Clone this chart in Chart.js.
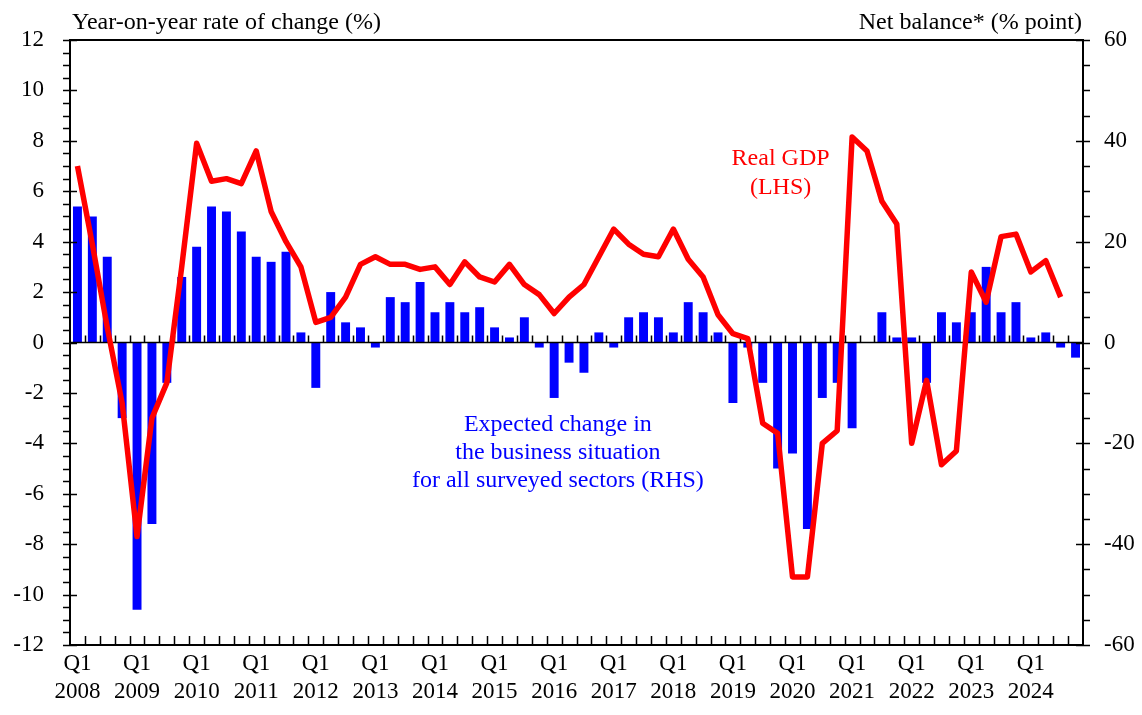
<!DOCTYPE html>
<html>
<head>
<meta charset="utf-8">
<title>Real GDP and business situation</title>
<script src="https://cdn.jsdelivr.net/npm/chart.js@4.4.1/dist/chart.umd.min.js"></script>
<style>
    html, body { margin: 0; padding: 0; background: #fff; }
    #wrap { position: relative; width: 1142px; height: 715px; }
</style>
</head>
<body>
<div id="wrap"><canvas id="chart"></canvas></div>
<script>
(function () {
    'use strict';

    const years = [2008, 2009, 2010, 2011, 2012, 2013, 2014, 2015, 2016,
        2017, 2018, 2019, 2020, 2021, 2022, 2023, 2024];
    const quarters = ['Q1', 'Q2', 'Q3', 'Q4'];

    // expected change in the business situation, net balance (% point), RHS
    const businessSituation = [
        27, 25, 17, -15, -53, -36, -8, 13, 19, 27,
        26, 22, 17, 16, 18, 2, -9, 10, 4, 3,
        -1, 9, 8, 12, 6, 8, 6, 7, 3, 1,
        5, -1, -11, -4, -6, 2, -1, 5, 6, 5,
        2, 8, 6, 2, -12, -1, -8, -25, -22, -37,
        -11, -8, -17, 0, 6, 1, 1, -8, 6, 4,
        6, 15, 6, 8, 1, 2, -1, -3
    ];

    // real GDP, year-on-year (%), LHS
    const realGdp = [
        7.0, 3.9, 0.6, -2.4, -7.7, -3.0, -1.6, 3.0, 7.9, 6.4,
        6.5, 6.3, 7.6, 5.2, 4.0, 3.0, 0.8, 1.0, 1.8, 3.1,
        3.4, 3.1, 3.1, 2.9, 3.0, 2.3, 3.2, 2.6, 2.4, 3.1,
        2.3, 1.9, 1.15, 1.8, 2.3, 3.4, 4.5, 3.9, 3.5, 3.4,
        4.5, 3.3, 2.6, 1.1, 0.35, 0.15, -3.2, -3.6, -9.3, -9.3,
        -4.0, -3.5, 8.15, 7.6, 5.6, 4.7, -4.0, -1.5, -4.85, -4.3,
        2.8, 1.6, 4.2, 4.3, 2.8, 3.25, 1.8, null
    ];

    const labels = [];
    years.forEach(y => quarters.forEach(q => labels.push(q + ' ' + y)));

    const SERIF = '"Liberation Serif", "Times New Roman", serif';
    const BLUE = '#0000ff';
    const RED = '#ff0000';

    Chart.defaults.font.family = SERIF;
    Chart.defaults.color = '#000';

    const text = (ctx, str, x, y, align, color) => {
        ctx.fillStyle = color;
        ctx.textAlign = align;
        ctx.textBaseline = 'middle';
        ctx.fillText(str, x, y);
    };

    // pixel of the boundary between quarter i-1 and quarter i
    const edge = (xs, i) => Math.round((xs.getPixelForValue(i - 1) + xs.getPixelForValue(i)) / 2) + 0.5;

    const frame = {
        id: 'frame',

        // zero line goes over the bars but under the GDP line
        beforeDatasetDraw(chart, args) {
            if (args.index !== 0) return;
            const { ctx, chartArea: a, scales } = chart;
            const y0 = scales.yL.getPixelForValue(0);
            ctx.save();
            ctx.strokeStyle = '#000';
            ctx.lineWidth = 1.5;
            ctx.beginPath();
            ctx.moveTo(a.left, y0);
            ctx.lineTo(a.right, y0);
            for (let i = 1; i < labels.length; i++) {
                const x = edge(scales.x, i);
                ctx.moveTo(x, y0);
                ctx.lineTo(x, y0 - 7);
            }
            ctx.stroke();
            ctx.restore();
        },

        afterDraw(chart) {
            const { ctx, chartArea: a, scales } = chart;
            ctx.save();
            ctx.strokeStyle = '#000';

            ctx.lineWidth = 2;
            ctx.strokeRect(a.left, a.top, a.right - a.left, a.bottom - a.top);

            ctx.lineWidth = 1.5;
            ctx.beginPath();
            // bottom axis, one tick per quarter
            for (let i = 1; i < labels.length; i++) {
                const x = edge(scales.x, i);
                ctx.moveTo(x, a.bottom);
                ctx.lineTo(x, a.bottom - 9);
            }
            // left axis: minor every 0.5, major every 2
            for (let v = -12; v <= 12; v += 0.5) {
                const y = Math.round(scales.yL.getPixelForValue(v)) + 0.5;
                const major = v % 2 === 0;
                ctx.moveTo(a.left - 7, y);
                ctx.lineTo(major ? a.left + 7 : a.left, y);
            }
            // right axis: minor every 5, major every 20
            for (let v = -60; v <= 60; v += 5) {
                const y = Math.round(scales.yR.getPixelForValue(v)) + 0.5;
                const major = v % 20 === 0;
                ctx.moveTo(major ? a.right - 7 : a.right, y);
                ctx.lineTo(a.right + 7, y);
            }
            ctx.stroke();

            ctx.font = '24px ' + SERIF;
            text(ctx, 'Year-on-year rate of change (%)', a.left + 2, 23, 'left', '#000');
            text(ctx, 'Net balance* (% point)', a.right - 1, 23, 'right', '#000');

            const gx = scales.x.getPixelForValue(47.2);
            const gy = scales.yL.getPixelForValue(7.3);
            text(ctx, 'Real GDP', gx, gy, 'center', RED);
            text(ctx, '(LHS)', gx, gy + 29, 'center', RED);

            const bx = scales.x.getPixelForValue(32.25);
            const by = scales.yL.getPixelForValue(-3.25);
            text(ctx, 'Expected change in', bx, by, 'center', BLUE);
            text(ctx, 'the business situation', bx, by + 28, 'center', BLUE);
            text(ctx, 'for all surveyed sectors (RHS)', bx, by + 56, 'center', BLUE);
            ctx.restore();
        }
    };

    const chart = new Chart(document.getElementById('chart'), {
        data: {
            labels,
            datasets: [
                {
                    type: 'line',
                    label: 'Real GDP (LHS)',
                    data: realGdp,
                    yAxisID: 'yL',
                    borderColor: RED,
                    borderWidth: 5.5,
                    borderJoinStyle: 'round',
                    pointRadius: 0,
                    tension: 0,
                    order: 1
                },
                {
                    type: 'bar',
                    label: 'Expected change in the business situation (RHS)',
                    data: businessSituation,
                    yAxisID: 'yR',
                    backgroundColor: BLUE,
                    barPercentage: 0.6,
                    categoryPercentage: 1,
                    order: 2
                }
            ]
        },
        options: {
            responsive: true,
            maintainAspectRatio: false,
            animation: false,
            layout: { padding: { top: 40, left: 0, right: 0, bottom: 0 } },
            plugins: {
                legend: { display: false },
                tooltip: { enabled: false }
            },
            scales: {
                x: {
                    offset: true,
                    grid: { display: false, drawTicks: false },
                    border: { display: false },
                    afterFit: s => { s.height = 70; },
                    ticks: {
                        autoSkip: false,
                        maxRotation: 0,
                        padding: 5,
                        font: { size: 23, lineHeight: 1.22 },
                        callback: (v, i) => i % 4 === 0 ? ['Q1', String(years[i / 4])] : ''
                    }
                },
                yL: {
                    position: 'left',
                    min: -12,
                    max: 12,
                    grid: { display: false, drawTicks: false },
                    border: { display: false },
                    afterFit: s => { s.width = 70; },
                    ticks: { stepSize: 2, padding: 26, font: { size: 23 } }
                },
                yR: {
                    position: 'right',
                    min: -60,
                    max: 60,
                    grid: { display: false, drawTicks: false },
                    border: { display: false },
                    afterFit: s => { s.width = 59; },
                    ticks: { stepSize: 20, padding: 21, font: { size: 23 } }
                }
            }
        },
        plugins: [frame]
    });

    document.getElementById('wrap').style.height = '715px';
    chart.resize();
})();
</script>
</body>
</html>
